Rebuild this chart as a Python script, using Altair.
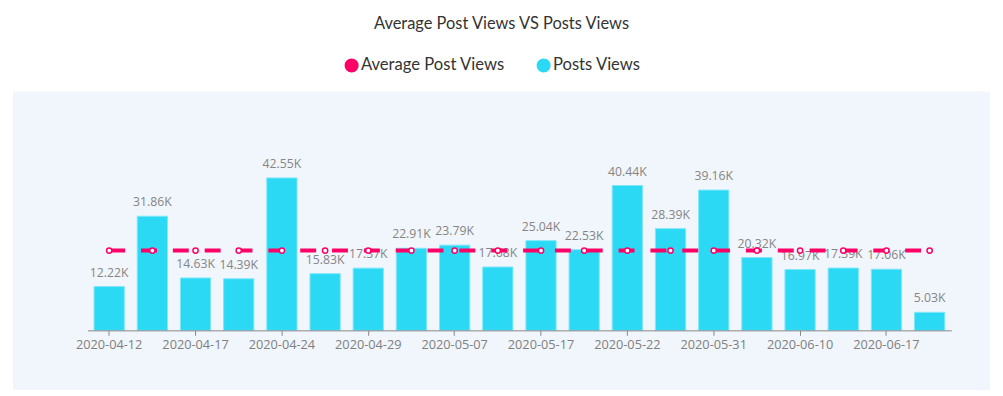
import altair as alt
import pandas as pd

dates = ["2020-04-12", "2020-04-14", "2020-04-17", "2020-04-20", "2020-04-24",
         "2020-04-26", "2020-04-29", "2020-05-03", "2020-05-07", "2020-05-12",
         "2020-05-17", "2020-05-19", "2020-05-22", "2020-05-27", "2020-05-31",
         "2020-06-05", "2020-06-10", "2020-06-14", "2020-06-17", "2020-06-20"]
post_views = [12220, 31860, 14630, 14390, 42550, 15830, 17370, 22910, 23790, 17680,
              25040, 22530, 40440, 28390, 39160, 20320, 16970, 17390, 17060, 5030]
avg_views = [22280] * 20
tick_labels = ["2020-04-12", "2020-04-17", "2020-04-24", "2020-04-29", "2020-05-07",
               "2020-05-17", "2020-05-22", "2020-05-31", "2020-06-10", "2020-06-17"]
series_names = ["Average Post Views", "Posts Views"]
series_colors = ["#ff0066", "#2bd9f5"]

df = pd.DataFrame({"date": dates, "views": post_views, "avg": avg_views,
                   "series": "Posts Views"})

FONT = "Lato"
LABEL_FONT = "Open Sans"

x = alt.X("date:N", sort=dates,
          scale=alt.Scale(paddingInner=0.3, paddingOuter=0.15),
          axis=alt.Axis(values=tick_labels, labelAngle=0, title=None, zindex=1,
                        domainColor="#888888", tickColor="#888888", tickSize=5,
                        labelColor="#808080", labelFont=LABEL_FONT, labelFontSize=12.8,
                        labelPadding=3, grid=False))
y = alt.Y("views:Q", scale=alt.Scale(domain=[0, 50000]), axis=None)

base = alt.Chart(df)

panel = base.mark_rect(color="#f1f5fc").encode(
    x=alt.value(-75), x2=alt.value(907), y=alt.value(-60), y2=alt.value(240)
).transform_filter("datum.date == '2020-04-12'")

bars = base.mark_bar(stroke="#7ee7f9", strokeWidth=1).encode(
    x=x, y=y,
    color=alt.Color("series:N",
                    scale=alt.Scale(domain=series_names, range=series_colors),
                    legend=alt.Legend(title=None, orient="none", direction="horizontal",
                                      legendX=257, legendY=-95,
                                      symbolType="circle", symbolSize=200,
                                      symbolStrokeWidth=0, symbolOpacity=1,
                                      labelFont=FONT, labelFontSize=16.7,
                                      labelColor="#333333", labelOffset=1,
                                      columnPadding=30)),
)

labels = base.transform_calculate(
    lbl="format(datum.views / 1000, '.2f') + 'K'"
).mark_text(baseline="bottom", dy=-7, font=LABEL_FONT, fontSize=12.3,
            color="#858585").encode(x=x, y=y, text="lbl:N")

line = base.mark_line(color="#ff0066", strokeWidth=4, strokeDash=[16, 16]).encode(
    x=x, y=alt.Y("avg:Q", scale=alt.Scale(domain=[0, 50000]), axis=None))

points = base.mark_point(shape="circle", filled=True, fill="white", stroke="#ff0066",
                         strokeWidth=1.5, size=28, opacity=1).encode(
    x=x, y=alt.Y("avg:Q", scale=alt.Scale(domain=[0, 50000]), axis=None))

chart = alt.layer(panel, bars, labels, line, points).properties(
    width=868, height=180,
    padding={"top": 7, "left": 5, "right": 5, "bottom": 5},
    title=alt.TitleParams("Average Post Views VS Posts Views", font=FONT, fontSize=16.5,
                          fontWeight="normal", color="#333333", anchor="middle",
                          frame="bounds", offset=24),
).configure_view(stroke=None).configure(background="white")

chart.save("out.html", embed_options={"renderer": "svg", "actions": False})
